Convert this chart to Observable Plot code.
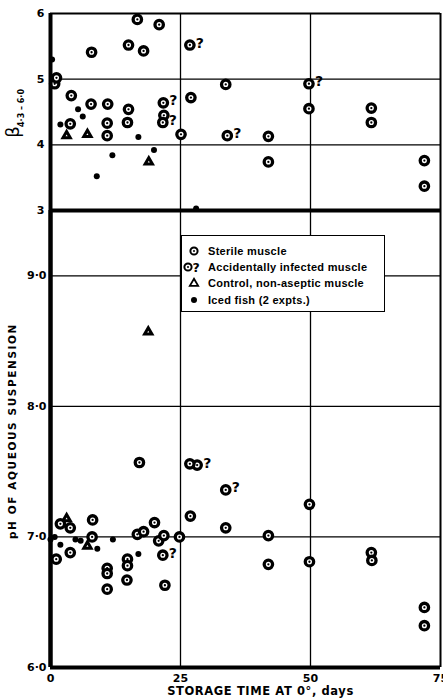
<!DOCTYPE html>
<html>
<head>
<meta charset="utf-8">
<script src="https://cdn.jsdelivr.net/npm/d3@7"></script>
<script src="https://cdn.jsdelivr.net/npm/@observablehq/plot@0.6"></script>
<style>
  body { margin: 0; background: #fff; }
  #wrap { position: relative; width: 443px; height: 699px; overflow: hidden; background: #fff; }
  #wrap svg { display: block; }
  #top svg { position: relative; z-index: 2; overflow: visible; }
  .legend { position: absolute; left: 181px; top: 235px; width: 202px; height: 75px;
    border: 1.5px solid #000; background: #fff; z-index: 3;
    font-family: "Liberation Sans", sans-serif; font-weight: bold; font-size: 11px; letter-spacing: 0.3px; color: #000; }
  .legend .row { position: absolute; left: 0; height: 14px; line-height: 14px; white-space: nowrap; }
  .legend .row svg { position: absolute; left: 0; top: 0; }
  .legend .row span { position: absolute; left: 26px; top: 0; }
</style>
</head>
<body>
<div id="wrap">
  <div id="top"></div>
  <div id="bottom"></div>
  <div class="legend" id="legend"></div>
</div>
<script>
// ---- data: [storage days, value] ----
const betaSterile = [[16.7,5.91],[20.9,5.83],[7.9,5.41],[15.0,5.52],[17.9,5.43],[0.8,4.93],[1.15,5.02],[4.0,4.75],[7.8,4.62],[11.0,4.62],[15.0,4.54],[3.8,4.32],[10.9,4.33],[14.8,4.34],[10.9,4.14],[27.0,4.72],[25.1,4.16],[21.8,4.45],[33.7,4.92],[49.7,4.55],[61.7,4.56],[61.7,4.34],[41.9,4.13],[41.9,3.74],[71.9,3.76],[71.9,3.37]];
const betaInfected = [[26.8,5.52],[21.7,4.64],[21.6,4.34],[49.7,4.93],[34.0,4.14]];
const betaControl = [[3.1,4.14],[7.1,4.16],[18.9,3.74]];
const betaIced = [[0.3,5.30],[1.9,4.31],[5.3,4.54],[6.2,4.43],[16.9,4.12],[11.9,3.84],[19.9,3.92],[8.9,3.52],[28.0,3.03]];

const phSterile = [[17.1,7.57],[26.8,7.56],[26.9,7.16],[33.7,7.07],[1.9,7.10],[3.8,7.07],[8.1,7.13],[8.0,7.00],[1.1,6.83],[3.8,6.88],[10.9,6.76],[10.9,6.72],[10.9,6.60],[14.8,6.83],[14.8,6.78],[14.7,6.67],[16.7,7.02],[17.9,7.04],[20.0,7.11],[20.8,6.97],[21.8,7.01],[22.0,6.63],[24.8,7.00],[41.9,7.01],[41.9,6.79],[49.8,7.25],[49.8,6.81],[61.7,6.88],[61.8,6.82],[71.9,6.46],[71.9,6.32]];
const phInfected = [[28.2,7.55],[33.7,7.36],[21.6,6.86]];
const phControl = [[3.1,7.14],[7.1,6.93],[18.8,8.57]];
const phIced = [[0,6.98],[0.8,7.00],[1.9,6.94],[4.8,6.98],[5.8,6.97],[9.0,6.91],[12.0,6.98],[16.9,6.87]];

const betaTicks = [3, 4, 5, 6];
const phTicks = [6, 7, 8, 9];
const dayTicks = [0, 25, 50, 75];
const betaGrid = [4, 5];
const phGrid = [7, 8, 9];
const dayGrid = [25, 50];

const legendItems = ["Sterile muscle", "Accidentally infected muscle", "Control, non-aseptic muscle", "Iced fish  (2 expts.)"];
const xTitle = "STORAGE TIME AT 0°, days";
const phTitle = "pH OF AQUEOUS SUSPENSION";
const betaSymbol = "β";
const betaSub = "4·3 – 6·0";

const X = d => d[0], Y = d => d[1];
const FONT = "DejaVu Sans";

function ring(data) {
  return [
    Plot.dot(data, {x: X, y: Y, r: 4.2, fill: "white", stroke: "black", strokeWidth: 3.3}),
    Plot.dot(data, {x: X, y: Y, r: 1.15, fill: "black"})
  ];
}
function infected(data) {
  return [
    ...ring(data),
    Plot.text(data, {x: X, y: Y, text: () => "?", dx: 6, dy: -2, textAnchor: "start", lineAnchor: "middle",
      fontSize: 14, fontWeight: "bold", fontFamily: FONT, fill: "black"})
  ];
}
function control(data) {
  return Plot.dot(data, {x: X, y: Y, symbol: "triangle", r: 2.7, fill: "white", stroke: "black", strokeWidth: 3, strokeLinejoin: "miter"});
}
function iced(data) {
  return Plot.dot(data, {x: X, y: Y, r: 3, fill: "black"});
}

const common = {
  width: 443, marginLeft: 50, marginRight: 3,
  style: {fontFamily: FONT, fontSize: "11px", fontWeight: "bold", color: "black", background: "transparent"}
};

const topPlot = Plot.plot({
  ...common,
  height: 210, marginTop: 13, marginBottom: 0,
  x: {domain: [0, 75], axis: null},
  y: {domain: [3, 6], ticks: betaTicks, tickSize: 0, tickPadding: 6, tickFormat: d => String(d), label: null},
  marks: [
    Plot.ruleY(betaGrid, {stroke: "black", strokeWidth: 1.3}),
    Plot.ruleX(dayGrid, {stroke: "black", strokeWidth: 1.3}),
    Plot.ruleY([6], {stroke: "black", strokeWidth: 2.2}),
    Plot.ruleX([75], {stroke: "black", strokeWidth: 2}),
    iced(betaIced),
    control(betaControl),
    ...ring(betaSterile),
    ...infected(betaInfected),
    Plot.ruleX([0], {stroke: "black", strokeWidth: 4}),
    Plot.ruleY([3], {stroke: "black", strokeWidth: 4}),
    Plot.text([betaSymbol], {frameAnchor: "left", dx: -37, dy: 20, rotate: -90, textAnchor: "middle", lineAnchor: "middle",
      fontSize: 18, fontWeight: "normal", fontFamily: FONT}),
    Plot.text([betaSub], {frameAnchor: "left", dx: -29, dy: -4, rotate: -90, textAnchor: "middle", lineAnchor: "middle",
      fontSize: 8, fontWeight: "bold", fontFamily: FONT})
  ]
});

const bottomPlot = Plot.plot({
  ...common,
  height: 489, marginTop: 0, marginBottom: 32,
  x: {domain: [0, 75], ticks: dayTicks, tickSize: 0, tickPadding: 7, tickFormat: d => String(d), label: null},
  y: {domain: [6, 9.5], ticks: phTicks, tickSize: 0, tickPadding: 4, tickFormat: d => d + "·0", label: null},
  marks: [
    Plot.ruleY(phGrid, {stroke: "black", strokeWidth: 1.3}),
    Plot.ruleX(dayGrid, {stroke: "black", strokeWidth: 1.3}),
    Plot.ruleX([75], {stroke: "black", strokeWidth: 2}),
    iced(phIced),
    control(phControl),
    ...infected(phInfected),
    ...ring(phSterile),
    Plot.ruleX([0], {stroke: "black", strokeWidth: 4.5}),
    Plot.ruleY([6], {stroke: "black", strokeWidth: 4}),
    Plot.text([xTitle], {frameAnchor: "bottom", dx: 15, dy: 24, textAnchor: "middle", lineAnchor: "middle",
      fontSize: 11.5, fontWeight: "bold", fontFamily: FONT}),
    Plot.text([phTitle], {frameAnchor: "left", dx: -38, dy: -8, rotate: -90, textAnchor: "middle", lineAnchor: "middle",
      fontSize: 10.5, fontWeight: "bold", fontFamily: FONT})
  ]
});

document.getElementById("top").appendChild(topPlot);
document.getElementById("bottom").appendChild(bottomPlot);

d3.select(bottomPlot).selectAll("text").filter(function () { return this.textContent === phTitle; })
  .style("letter-spacing", "1.6px");
d3.select(bottomPlot).selectAll("text").filter(function () { return this.textContent === xTitle; })
  .style("letter-spacing", "0.6px");

// legend (HTML overlay)
const legend = d3.select("#legend");
const rowTops = [8, 24, 40, 57];
legendItems.forEach((label, i) => {
  const row = legend.append("div").attr("class", "row").style("top", rowTops[i] + "px");
  const s = row.append("svg").attr("width", 26).attr("height", 14);
  if (i === 0 || i === 1) {
    const cx = i === 0 ? 12 : 6;
    s.append("circle").attr("cx", cx).attr("cy", 7).attr("r", 3.6).attr("fill", "white").attr("stroke", "black").attr("stroke-width", 2);
    s.append("circle").attr("cx", cx).attr("cy", 7).attr("r", 1).attr("fill", "black");
    if (i === 1) s.append("text").attr("x", 10.5).attr("y", 11.5).attr("font-family", FONT).attr("font-weight", "bold").attr("font-size", 12.5).text("?");
  } else if (i === 2) {
    s.append("path").attr("d", d3.symbol(d3.symbolTriangle, 30)()).attr("transform", "translate(12,7.5)")
      .attr("fill", "white").attr("stroke", "black").attr("stroke-width", 1.8);
  } else {
    s.append("circle").attr("cx", 12).attr("cy", 7).attr("r", 3).attr("fill", "black");
  }
  row.append("span").text(label);
});
</script>
</body>
</html>
